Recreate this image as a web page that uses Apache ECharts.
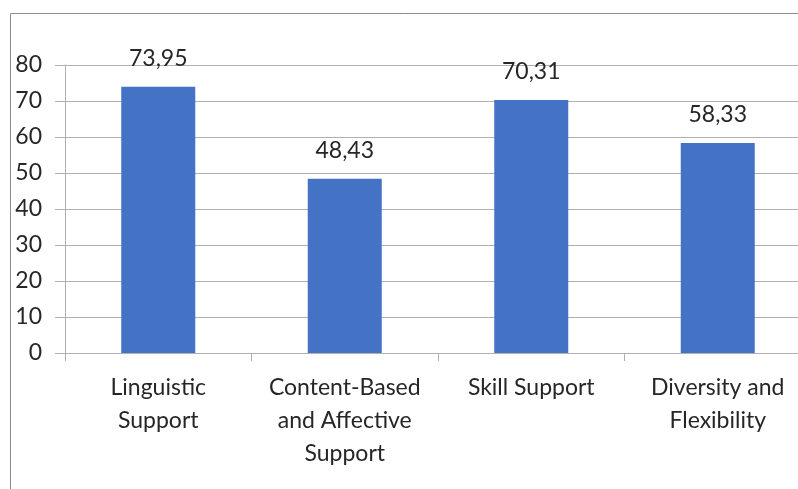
<!DOCTYPE html>
<html>
<head>
<meta charset="utf-8">
<script src="https://cdn.jsdelivr.net/npm/echarts@6/dist/echarts.min.js"></script>
<style>
  html, body { margin: 0; padding: 0; background: #fff; }
  #main { width: 798px; height: 489px; }
</style>
</head>
<body>
<div id="main"></div>
<script>
var categories = ['Linguistic\nSupport', 'Content-Based\nand Affective\nSupport', 'Skill Support', 'Diversity and\nFlexibility'];
var values = [73.95, 48.43, 70.31, 58.33];
var yTicks = [0, 10, 20, 30, 40, 50, 60, 70, 80];

var chart = echarts.init(document.getElementById('main'));
var font = 'Lato, "Open Sans", sans-serif';

var option = {
  animation: false,
  graphic: [{
    type: 'rect',
    shape: { x: 10.5, y: 13.5, width: 820, height: 520 },
    style: { fill: 'none', stroke: '#8c8c8c', lineWidth: 1 },
    silent: true
  }],
  grid: { left: 65, top: 65, width: 746, height: 288, outerBoundsMode: 'none' },
  xAxis: {
    type: 'category',
    data: categories,
    axisLine: { lineStyle: { color: '#b0b0b0' } },
    axisTick: { show: true, length: 8, lineStyle: { color: '#b0b0b0' } },
    axisLabel: {
      color: '#262626', fontSize: 23, fontFamily: font,
      lineHeight: 33, margin: 18, interval: 0
    }
  },
  yAxis: {
    type: 'value',
    min: yTicks[0],
    max: yTicks[yTicks.length - 1],
    interval: 10,
    axisLine: { show: true, lineStyle: { color: '#b0b0b0' } },
    axisTick: { show: true, length: 10, lineStyle: { color: '#b0b0b0' } },
    splitLine: { lineStyle: { color: '#b0b0b0' } },
    axisLabel: { color: '#262626', fontSize: 23, fontFamily: font, margin: 23 }
  },
  series: [{
    type: 'bar',
    data: values,
    barWidth: 74,
    itemStyle: { color: '#4472c4' },
    label: {
      show: true,
      position: 'top',
      distance: 17,
      color: '#262626',
      fontSize: 23,
      fontFamily: font,
      formatter: function (p) { return p.value.toFixed(2).replace('.', ','); }
    }
  }]
};

chart.setOption(option);
</script>
</body>
</html>
